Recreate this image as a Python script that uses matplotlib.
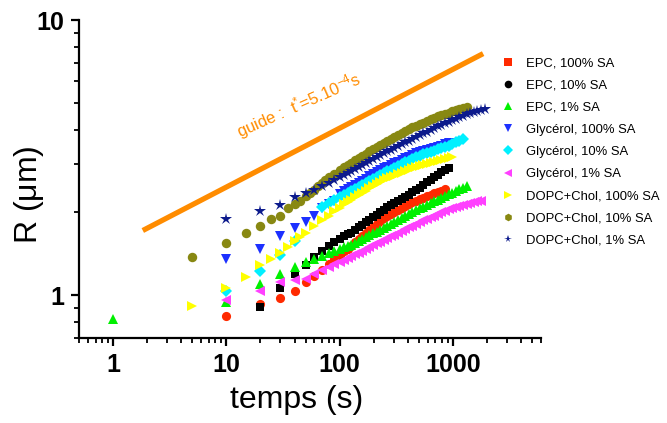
import matplotlib
matplotlib.use("Agg")
import matplotlib.pyplot as plt
from matplotlib.lines import Line2D
from matplotlib.ticker import LogLocator, NullFormatter, FixedLocator, FixedFormatter

plt.rcParams['font.family'] = ['Liberation Sans', 'DejaVu Sans']
plt.rcParams['mathtext.fontset'] = 'custom'
plt.rcParams['mathtext.rm'] = 'Liberation Sans'
plt.rcParams['mathtext.it'] = 'Liberation Sans'

# sampling times of the dense part of every curve (s)
t_grid = [110, 118, 127, 137, 147, 158, 170, 183, 197, 212, 228, 245, 264, 284, 305,
          328, 353, 380, 409, 440, 473, 509, 548, 590, 635, 683, 735, 791, 851, 916,
          986, 1061, 1142, 1229, 1323, 1424, 1532, 1649, 1775, 1910]

# early points (t in s, R in um), then R along t_grid
t0_epc100 = [10, 20, 30, 40, 50, 60, 70, 80, 90, 100]
r0_epc100 = [0.84, 0.933, 0.98, 1.04, 1.12, 1.18, 1.24, 1.30, 1.35, 1.40]
r_epc100 = [1.445, 1.479, 1.517, 1.558, 1.597, 1.638, 1.681, 1.725, 1.770, 1.817,
            1.864, 1.907, 1.939, 1.971, 2.003, 2.036, 2.069, 2.104, 2.139, 2.174,
            2.21, 2.235, 2.262, 2.289, 2.316, 2.344, 2.372, 2.400, 2.428]

t0_epc10 = [20, 30, 40, 50, 60, 70, 80, 90, 100]
r0_epc10 = [0.91, 1.065, 1.20, 1.285, 1.378, 1.45, 1.51, 1.56, 1.60]
r_epc10 = [1.636, 1.664, 1.687, 1.733, 1.769, 1.806, 1.845, 1.885, 1.925, 1.966,
           2.009, 2.048, 2.086, 2.124, 2.162, 2.201, 2.241, 2.282, 2.324, 2.366,
           2.41, 2.461, 2.515, 2.571, 2.627, 2.684, 2.743, 2.795, 2.85, 2.90]

t0_epc1 = [1, 10, 20, 30, 40, 50, 60, 70, 80, 90, 100]
r0_epc1 = [0.82, 0.943, 1.096, 1.20, 1.27, 1.32, 1.35, 1.39, 1.42, 1.45, 1.47]
r_epc1 = [1.493, 1.510, 1.530, 1.555, 1.578, 1.602, 1.627, 1.652, 1.678, 1.704,
          1.730, 1.756, 1.787, 1.817, 1.846, 1.877, 1.908, 1.941, 1.973, 2.006,
          2.04, 2.070, 2.101, 2.132, 2.164, 2.196, 2.229, 2.262, 2.296, 2.330,
          2.363, 2.395, 2.428, 2.461, 2.49]

t0_gly100 = [10, 20, 30, 40, 50, 60, 70, 80, 90, 100]
r0_gly100 = [1.35, 1.47, 1.64, 1.75, 1.85, 1.95, 2.07, 2.14, 2.21, 2.33]
r_gly100 = [2.384, 2.424, 2.469, 2.517, 2.562, 2.610, 2.657, 2.707, 2.753, 2.799,
            2.845, 2.890, 2.935, 2.979, 3.016, 3.059, 3.099, 3.143, 3.187, 3.231,
            3.275, 3.303, 3.336, 3.365, 3.398, 3.430, 3.464, 3.498, 3.531, 3.562]

t0_gly10 = [10, 20, 30, 40, 70, 80, 90, 100]
r0_gly10 = [1.04, 1.225, 1.40, 1.58, 2.10, 2.16, 2.22, 2.27]
r_gly10 = [2.321, 2.358, 2.397, 2.439, 2.478, 2.519, 2.560, 2.603, 2.647, 2.691,
           2.736, 2.779, 2.822, 2.864, 2.906, 2.950, 2.994, 3.040, 3.085, 3.131,
           3.18, 3.213, 3.248, 3.283, 3.318, 3.353, 3.389, 3.426, 3.462, 3.499,
           3.544, 3.591, 3.639, 3.687]

t0_gly1 = [10, 20, 30, 40, 50, 60, 70, 80, 90, 100]
r0_gly1 = [0.965, 1.037, 1.118, 1.134, 1.15, 1.20, 1.235, 1.265, 1.295, 1.323]
r_gly1 = [1.348, 1.367, 1.387, 1.409, 1.430, 1.452, 1.474, 1.497, 1.520, 1.543,
          1.567, 1.590, 1.615, 1.639, 1.663, 1.688, 1.713, 1.740, 1.766, 1.792,
          1.82, 1.845, 1.871, 1.897, 1.924, 1.950, 1.978, 2.005, 2.033, 2.062,
          2.081, 2.097, 2.112, 2.128, 2.145, 2.160, 2.177, 2.193, 2.21]

t0_dopc100 = [5, 10, 15, 20, 25, 30, 35, 40, 45, 50, 60, 70, 80, 90, 100]
r0_dopc100 = [0.915, 1.06, 1.166, 1.285, 1.36, 1.43, 1.50, 1.58, 1.63, 1.68,
              1.79, 1.88, 1.95, 2.02, 2.08]
r_dopc100 = [2.140, 2.184, 2.228, 2.271, 2.312, 2.355, 2.399, 2.444, 2.490, 2.536,
             2.584, 2.627, 2.660, 2.692, 2.724, 2.757, 2.791, 2.825, 2.860, 2.895,
             2.93, 2.953, 2.977, 3.002, 3.027, 3.051, 3.076, 3.101, 3.127, 3.152, 3.17]

t0_dopc10 = [5, 10, 15, 20, 25, 30, 35, 40, 45, 50, 55, 60, 65, 70, 75, 80, 90, 100]
r0_dopc10 = [1.38, 1.55, 1.69, 1.79, 1.89, 1.95, 2.07, 2.15, 2.21, 2.30, 2.36, 2.42,
             2.49, 2.56, 2.62, 2.68, 2.77, 2.85]
r_dopc10 = [2.922, 2.978, 3.037, 3.10, 3.155, 3.213, 3.272, 3.333, 3.395, 3.457,
            3.52, 3.58, 3.642, 3.703, 3.764, 3.828, 3.893, 3.960, 4.017, 4.071,
            4.125, 4.181, 4.238, 4.295, 4.353, 4.411, 4.468, 4.515, 4.561, 4.609,
            4.658, 4.706, 4.756, 4.806, 4.85]

t0_dopc1 = [10, 20, 30, 40, 50, 60, 70, 80, 90, 100]
r0_dopc1 = [1.89, 2.03, 2.13, 2.27, 2.35, 2.41, 2.49, 2.55, 2.618, 2.681]
r_dopc1 = [2.739, 2.783, 2.829, 2.878, 2.924, 2.972, 3.021, 3.072, 3.123, 3.18,
           3.232, 3.280, 3.331, 3.382, 3.432, 3.484, 3.537, 3.592, 3.647, 3.702,
           3.758, 3.814, 3.872, 3.932, 3.991, 4.052, 4.110, 4.163, 4.217, 4.272,
           4.328, 4.384, 4.441, 4.499, 4.555, 4.594, 4.632, 4.672, 4.712, 4.752]

guide_t = [1.83, 1850]
guide_r = [1.72, 7.55]

labels = ['EPC, 100% SA', 'EPC, 10% SA', 'EPC, 1% SA',
          'Glycérol, 100% SA', 'Glycérol, 10% SA', 'Glycérol, 1% SA',
          'DOPC+Chol, 100% SA', 'DOPC+Chol, 10% SA', 'DOPC+Chol, 1% SA']

series = [(t0_epc100, r0_epc100, r_epc100), (t0_epc10, r0_epc10, r_epc10),
          (t0_epc1, r0_epc1, r_epc1), (t0_gly100, r0_gly100, r_gly100),
          (t0_gly10, r0_gly10, r_gly10), (t0_gly1, r0_gly1, r_gly1),
          (t0_dopc100, r0_dopc100, r_dopc100), (t0_dopc10, r0_dopc10, r_dopc10),
          (t0_dopc1, r0_dopc1, r_dopc1)]
colors = ['#ff2a00', '#000000', '#00f000', '#1c30ff', '#00f0ff',
          '#ff40ff', '#ffff00', '#888812', '#0c1a8c']
plot_markers = ['o', 's', '^', 'v', 'D', '<', '>', 'o', '*']
legend_markers = ['s', 'o', '^', 'v', 'D', '<', '>', 'h', '*']
sizes = [6.6, 6.1, 7.2, 7.2, 5.8, 7.2, 7.2, 6.8, 9.0]

fig = plt.figure(figsize=(6.67, 4.23), dpi=100)
ax = fig.add_axes([0.1184, 0.2009, 0.6927, 0.7518])

for (t0, r0, r), c, m, s in zip(series, colors, plot_markers, sizes):
    t = t0 + t_grid[:len(r)]
    ax.plot(t, r0 + r, linestyle='none', marker=m, color=c, markersize=s,
            markeredgewidth=0)

ax.plot(guide_t, guide_r, color='#ff8c00', linewidth=3.8, solid_capstyle='butt')
ax.text(13.1, 3.72, r'guide :  t$^{*}$=5.10$^{-4}$s', color='#ff8c00',
        fontsize=12, rotation=24, rotation_mode='anchor',
        ha='left', va='baseline')

ax.set_xscale('log')
ax.set_yscale('log')
ax.set_xlim(0.5, 6000)
ax.set_ylim(0.7, 10)

ax.xaxis.set_major_locator(FixedLocator([1, 10, 100, 1000]))
ax.xaxis.set_major_formatter(FixedFormatter(['1', '10', '100', '1000']))
ax.xaxis.set_minor_locator(LogLocator(base=10, subs=range(2, 10)))
ax.xaxis.set_minor_formatter(NullFormatter())
ax.yaxis.set_major_locator(FixedLocator([1, 10]))
ax.yaxis.set_major_formatter(FixedFormatter(['1', '10']))
ax.yaxis.set_minor_locator(LogLocator(base=10, subs=range(2, 10)))
ax.yaxis.set_minor_formatter(NullFormatter())

for side in ['top', 'right']:
    ax.spines[side].set_visible(False)
for side in ['left', 'bottom']:
    ax.spines[side].set_linewidth(1.6)
ax.tick_params(which='major', direction='out', length=5.5, width=1.6, pad=5,
               labelsize=18)
ax.tick_params(which='minor', direction='out', length=3.5, width=1.3)
for lab in ax.get_xticklabels() + ax.get_yticklabels():
    lab.set_fontweight('bold')

fig.text(29 / 667, 1 - 195 / 423, r'R ($\mu$m)', rotation=90, fontsize=23,
         ha='center', va='center')
fig.text(297 / 667, 1 - 400 / 423, 'temps (s)', fontsize=23,
         ha='center', va='center')

handles = [Line2D([], [], linestyle='none', marker=m, color=c, markersize=5.5,
                  markeredgewidth=0)
           for m, c in zip(legend_markers, colors)]
fig.legend(handles, labels, loc='upper left', bbox_to_anchor=(501 / 667, 1 - 57 / 423),
           frameon=False, fontsize=9.4, handlelength=1.0, handletextpad=0.9,
           labelspacing=0.77, borderpad=0, borderaxespad=0)

fig.savefig('out.png', dpi=100)
